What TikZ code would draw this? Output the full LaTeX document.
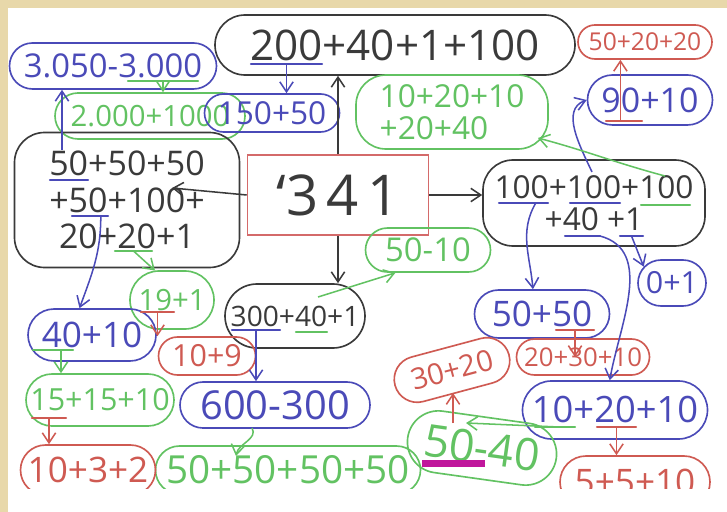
\documentclass[tikz,border=0pt]{standalone}
\usepackage{fontspec}
\setmainfont{Open Sans}
\usepackage{tikz}
\usetikzlibrary{arrows.meta, shapes.misc, calc}
\definecolor{paper}{HTML}{E8D8AA}
\definecolor{inkblack}{HTML}{3A3A3A}
\definecolor{inkred}{HTML}{CF5A52}
\definecolor{inkblue}{HTML}{4A4AB8}
\definecolor{inkgreen}{HTML}{62C262}
\definecolor{boxred}{HTML}{D46A6A}
\definecolor{marker}{HTML}{C0179C}
\newcommand\hand[1]{\fontsize{#1}{#1}\selectfont}
\tikzset{
	wh/.style 2 args={minimum width=#1*0.03cm, minimum height=#2*0.03cm},
	blob/.style={rounded rectangle, draw=#1, line width=1.4pt, inner sep=0pt,
		text=#1},
	patch/.style={rectangle, rounded corners=0.9cm, draw=#1, line width=1.4pt,
		inner sep=0pt, text=#1},
	box/.style={rectangle, draw=boxred, line width=1.4pt, text=inkblack,
		inner sep=0pt},
	pen/.style={draw=#1, line width=1.3pt, -{Straight Barb[length=3mm, width=4mm]}},
	uline/.style={draw=#1, line width=1.8pt, line cap=round},
}

\begin{document}
\begin{tikzpicture}[x=0.03cm, y=-0.03cm]
	\useasboundingbox (0,0) rectangle (727,512);
	\fill[paper] (0,0) rectangle (727,512);
	\fill[white] (8,8) rectangle (727,512);
	\begin{scope}
	\clip (8,8) rectangle (727,488);

	% centre
	\node[box, wh={181}{80}, font=\hand{48}] (n341) at (338,195) {`3\hspace{.15em}4\hspace{.15em}1};

	% top and left
	\node[blob=inkblack, wh={360}{60}, font=\hand{36}] (n200) at (395,45) {200+40+1+100};
	\node[blob=inkblue, wh={207}{46}, font=\hand{28}] (n3050) at (113,66) {3.050-3.000};
	\node[blob=inkgreen, wh={190}{46}, font=\hand{25}] (n2000) at (150,116) {2.000+1000};
	\node[blob=inkblue, wh={135}{38}, font=\hand{27}] (n150) at (272,113) {150+50};
	\node[patch=inkblack, wh={225}{135}, align=center, font=\hand{29}] (nleft) at (127,200)
		{50+50+50\\[2pt]+50+100+\\[2pt]20+20+1};

	% right
	\node[blob=inkred, wh={134}{34}, font=\hand{21}] (n5020) at (645,42) {50+20+20};
	\node[blob=inkblue, wh={125}{50}, font=\hand{29}] (n9010) at (650,100) {90+10};
	\node[patch=inkgreen, wh={192}{74}, align=left, font=\hand{27}] (n1020) at (452,112)
		{10+20+10\\+20+40};
	\node[patch=inkblack, wh={222}{86}, align=center, font=\hand{27}] (n100) at (594,203)
		{100+100+100\\+40 +1};
	\node[blob=inkblue, wh={68}{46}, font=\hand{26}] (n01) at (672,283) {0+1};
	\node[blob=inkblue, wh={135}{48}, font=\hand{30}] (n5050) at (542,314) {50+50};
	\node[blob=inkred, wh={133}{36}, font=\hand{22}] (n203010) at (583,357) {20+30+10};
	\node[blob=inkblue, wh={185}{58}, font=\hand{31}] (n102010) at (615,410) {10+20+10};
	\node[blob=inkred, wh={150}{52}, font=\hand{30}] (n5510) at (635,482) {5+5+10};

	% bottom middle
	\node[blob=inkgreen, wh={125}{44}, font=\hand{28}] (n5010) at (428,250) {50-10};
	\node[blob=inkblack, wh={140}{64}, font=\hand{24}] (n300) at (295,316) {300+40+1};
	\node[blob=inkred, wh={118}{46}, rotate=15, font=\hand{25}] (n3020) at (452,370) {30+20};
	\node[blob=inkgreen, wh={150}{62}, rotate=-8, font=\hand{38}] (n5040) at (482,448) {50-40};
	\node[blob=inkblue, wh={190}{46}, font=\hand{34}] (n600) at (275,405) {600-300};
	\node[blob=inkgreen, wh={265}{48}, font=\hand{33}] (n50x4) at (288,470) {50+50+50+50};

	% bottom left
	\node[blob=inkgreen, wh={84}{58}, font=\hand{25}] (n191) at (172,300) {19+1};
	\node[blob=inkred, wh={97}{38}, font=\hand{26}] (n109) at (207,356) {10+9};
	\node[blob=inkblue, wh={128}{52}, font=\hand{30}] (n4010) at (92,335) {40+10};
	\node[blob=inkgreen, wh={148}{52}, font=\hand{26}] (n1515) at (100,400) {15+15+10};
	\node[blob=inkred, wh={135}{50}, font=\hand{30}] (n1032) at (88,470) {10+3+2};

	\fill[marker] (422,460) rectangle (485,467);

	% underlines
	\draw[uline=inkblue] (251,64) -- (322,64) coordinate[midway] (u200);
	\draw[uline=inkgreen] (128,81) -- (198,81) coordinate[midway] (u3000);
	\draw[uline=inkblue] (50,180) -- (88,180);
	\draw[uline=inkblue] (72,216) -- (108,216) coordinate[pos=.8] (u50l);
	\draw[uline=inkgreen] (115,251) -- (152,251) coordinate[midway] (u20g);
	\draw[uline=inkred] (606,121) -- (642,121) coordinate[pos=.4] (u90);
	\draw[uline=inkblue] (499,203) -- (548,203) coordinate[pos=.75] (u100a);
	\draw[uline=inkblue] (570,203) -- (620,203);
	\draw[uline=inkgreen] (641,205) -- (690,205);
	\draw[uline=inkblue] (565,236) -- (600,236) coordinate[pos=1] (u40);
	\draw[uline=inkblue] (620,236) -- (643,236) coordinate[pos=.5] (u1);
	\draw[uline=inkred] (556,330) -- (594,330) coordinate[pos=.5] (u50b);
	\draw[uline=inkgreen] (535,427) -- (575,427) coordinate[pos=.6] (u10g);
	\draw[uline=inkred] (597,427) -- (636,427) coordinate[midway] (u20r);
	\draw[uline=inkblue] (232,330) -- (280,330) coordinate[midway] (u300);
	\draw[uline=inkgreen] (296,332) -- (327,332);
	\draw[uline=inkgreen] (33,350) -- (73,350) coordinate[pos=.7] (u40g);
	\draw[uline=inkred] (141,312) -- (174,312) coordinate[midway] (u19);
	\draw[uline=inkred] (32,418) -- (66,418) coordinate[midway] (u15);

	% free ends
	\coordinate (c50) at (172,188);
	\coordinate (s50) at (62,150);
	\coordinate (s100) at (592,172);
	\coordinate (g100) at (665,176);
	\coordinate (t1020) at (538,138);
	\coordinate (t5040) at (466,423);
	\coordinate (r50) at (453,423);
	\coordinate (g40) at (318,297);
	\coordinate (g600) at (252,428);
	\coordinate (t50x4) at (236,456);

	% black
	\draw[pen=inkblack] (n341.north) -- (n341.north |- n200.south);
	\draw[pen=inkblack] (n341.south) -- (n341.south |- n300.north);
	\draw[pen=inkblack] (n341.east) -- (n341.east -| n100.west);
	\draw[pen=inkblack] (n341.west) -- (c50);

	% blue
	\draw[pen=inkblue] (u200) -- (u200 |- n150.north);
	\draw[pen=inkblue] (s50) -- (s50 |- n3050.south);
	\draw[pen=inkblue] (s100) to[out=115, in=200] (n9010.west);
	\draw[pen=inkblue] (u100a) to[out=240, in=95] (n5050.110);
	\draw[pen=inkblue] (u40) to[out=-15, in=80] (n102010.100);
	\draw[pen=inkblue] (u1) -- (n01.150);
	\draw[pen=inkblue] (u300) -- (u300 |- n600.north);
	\draw[pen=inkblue] (u50l) to[out=-90, in=70] (n4010.115);

	% green
	\draw[pen=inkgreen] (u3000) -- (u3000 |- n2000.north);
	\draw[pen=inkgreen] (g100) to[out=165, in=-15] (t1020);
	\draw[pen=inkgreen] (u10g) -- (t5040);
	\draw[pen=inkgreen] (g40) -- (n5010.215);
	\draw[pen=inkgreen] (g600) to[out=-60, in=80] (t50x4);
	\draw[pen=inkgreen] (u20g) -- (n191.120);
	\draw[pen=inkgreen] (u40g) -- (u40g |- n1515.north);

	% red
	\draw[pen=inkred] (u90) -- (u90 |- n5020.south);
	\draw[pen=inkred] (u50b) -- (u50b |- n203010.center);
	\draw[pen=inkred] (u20r) -- (u20r |- n5510.north);
	\draw[pen=inkred] (r50) -- (r50 |- n3020.south);
	\draw[pen=inkred] (u19) -- (u19 |- n109.north);
	\draw[pen=inkred] (u15) -- (u15 |- n1032.north);
	\end{scope}
\end{tikzpicture}
\end{document}
